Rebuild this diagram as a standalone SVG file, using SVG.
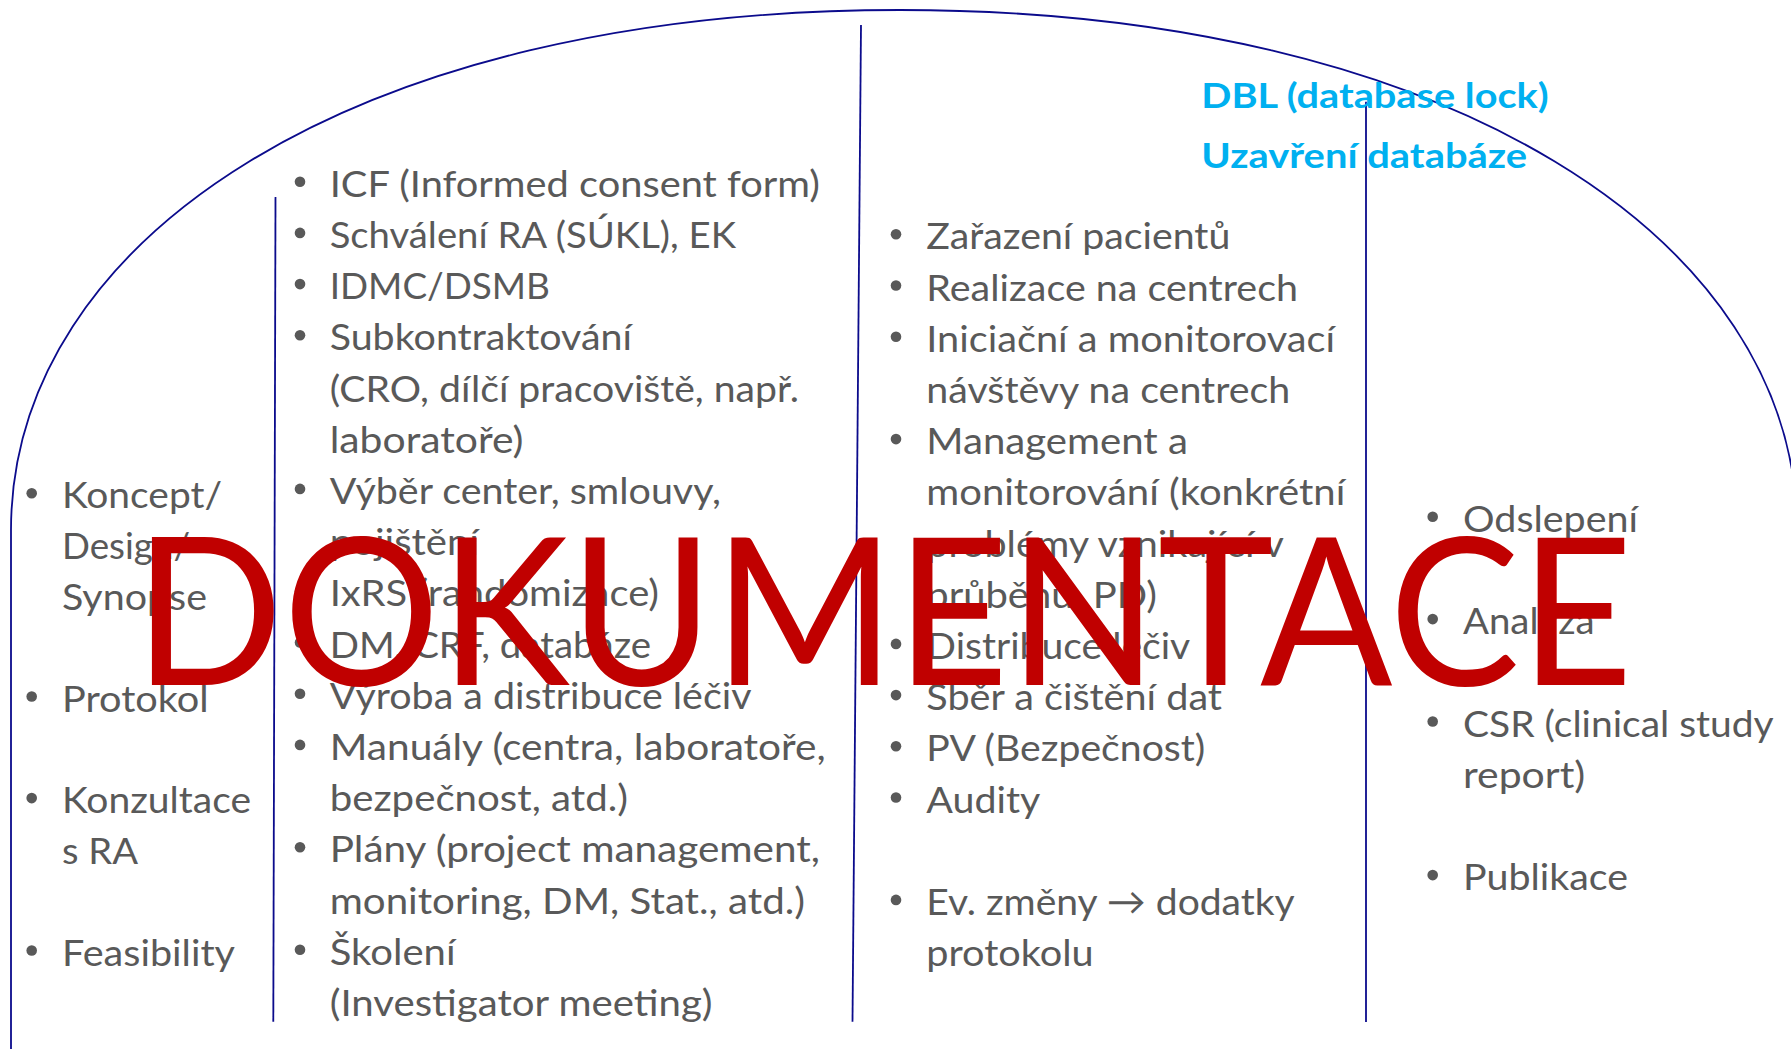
<svg xmlns="http://www.w3.org/2000/svg" width="1791" height="1049" viewBox="0 0 1791 1049">
<style>
.t{font-family:Lato,"Open Sans","Liberation Sans",sans-serif;font-size:37.5px;fill:#595959;}
.b{fill:#595959;}
.ln{fill:none;stroke:#0B0B8C;stroke-width:1.8;}
.dbl{font-family:Lato,"Open Sans","Liberation Sans",sans-serif;font-weight:bold;font-size:35px;fill:#00B0F0;}
.wm{font-family:Lato,"Open Sans","Liberation Sans",sans-serif;font-size:206px;fill:#C00000;}
</style>
<rect width="1791" height="1049" fill="#FFFFFF"/>
<g id="connectors">
<path class="ln" d="M 11 1049 L 11 530 C 11 240 351 10 900 10 C 1449 10 1797 240 1797 530 L 1797 1049"/>
<line class="ln" x1="275.5" y1="197" x2="273.3" y2="1021.7"/>
<line class="ln" x1="861" y1="25" x2="852.5" y2="1021.8"/>
<line class="ln" x1="1366" y1="101.7" x2="1366" y2="1022"/>
</g>
<g id="col-planning">
<circle class="b" cx="31.7" cy="493.3" r="5.3"/>
<circle class="b" cx="31.7" cy="696.5" r="5.3"/>
<circle class="b" cx="31.7" cy="798.1" r="5.3"/>
<circle class="b" cx="31.7" cy="950.5" r="5.3"/>
<text class="t" x="62" y="508.3" textLength="160" lengthAdjust="spacingAndGlyphs">Koncept/</text>
<text class="t" x="62" y="559.1" textLength="128" lengthAdjust="spacingAndGlyphs">Design/</text>
<text class="t" x="62" y="609.9" textLength="145" lengthAdjust="spacingAndGlyphs">Synopse</text>
<text class="t" x="62" y="711.5" textLength="146.7" lengthAdjust="spacingAndGlyphs">Protokol</text>
<text class="t" x="62" y="813.1" textLength="189" lengthAdjust="spacingAndGlyphs">Konzultace</text>
<text class="t" x="62" y="863.9" textLength="76" lengthAdjust="spacingAndGlyphs">s RA</text>
<text class="t" x="62" y="965.5" textLength="173" lengthAdjust="spacingAndGlyphs">Feasibility</text>
</g>
<g id="col-preparation">
<circle class="b" cx="300" cy="181.7" r="5.3"/>
<circle class="b" cx="300" cy="232.9" r="5.3"/>
<circle class="b" cx="300" cy="284.1" r="5.3"/>
<circle class="b" cx="300" cy="335.3" r="5.3"/>
<circle class="b" cx="300" cy="488.9" r="5.3"/>
<circle class="b" cx="300" cy="591.3" r="5.3"/>
<circle class="b" cx="300" cy="642.5" r="5.3"/>
<circle class="b" cx="300" cy="693.7" r="5.3"/>
<circle class="b" cx="300" cy="744.9" r="5.3"/>
<circle class="b" cx="300" cy="847.3" r="5.3"/>
<circle class="b" cx="300" cy="949.7" r="5.3"/>
<text class="t" x="329.7" y="196.7" textLength="490.3" lengthAdjust="spacingAndGlyphs">ICF (Informed consent form)</text>
<text class="t" x="329.7" y="247.9" textLength="406.3" lengthAdjust="spacingAndGlyphs">Schválení RA (SÚKL), EK</text>
<text class="t" x="329.7" y="299.1" textLength="220.3" lengthAdjust="spacingAndGlyphs">IDMC/DSMB</text>
<text class="t" x="329.7" y="350.3" textLength="302.3" lengthAdjust="spacingAndGlyphs">Subkontraktování</text>
<text class="t" x="329.7" y="401.5" textLength="469.3" lengthAdjust="spacingAndGlyphs">(CRO, dílčí pracoviště, např.</text>
<text class="t" x="329.7" y="452.7" textLength="193.8" lengthAdjust="spacingAndGlyphs">laboratoře)</text>
<text class="t" x="329.7" y="503.9" textLength="391.3" lengthAdjust="spacingAndGlyphs">Výběr center, smlouvy,</text>
<text class="t" x="329.7" y="555.1" textLength="149.3" lengthAdjust="spacingAndGlyphs">pojištění</text>
<text class="t" x="329.7" y="606.3" textLength="329.3" lengthAdjust="spacingAndGlyphs">IxRS (randomizace)</text>
<text class="t" x="329.7" y="657.5" textLength="321.3" lengthAdjust="spacingAndGlyphs">DM, CRF, databáze</text>
<text class="t" x="329.7" y="708.7" textLength="421.8" lengthAdjust="spacingAndGlyphs">Výroba a distribuce léčiv</text>
<text class="t" x="329.7" y="759.9" textLength="496" lengthAdjust="spacingAndGlyphs">Manuály (centra, laboratoře,</text>
<text class="t" x="329.7" y="811.1" textLength="298.3" lengthAdjust="spacingAndGlyphs">bezpečnost, atd.)</text>
<text class="t" x="329.7" y="862.3" textLength="490.3" lengthAdjust="spacingAndGlyphs">Plány (project management,</text>
<text class="t" x="329.7" y="913.5" textLength="475.3" lengthAdjust="spacingAndGlyphs">monitoring, DM, Stat., atd.)</text>
<text class="t" x="329.7" y="964.7" textLength="125.8" lengthAdjust="spacingAndGlyphs">Školení</text>
<text class="t" x="329.7" y="1015.9" textLength="382.9" lengthAdjust="spacingAndGlyphs">(Investigator meeting)</text>
</g>
<g id="col-conduct">
<circle class="b" cx="896" cy="234.3" r="5.3"/>
<circle class="b" cx="896" cy="285.5" r="5.3"/>
<circle class="b" cx="896" cy="336.7" r="5.3"/>
<circle class="b" cx="896" cy="439.1" r="5.3"/>
<circle class="b" cx="896" cy="643.9" r="5.3"/>
<circle class="b" cx="896" cy="695.1" r="5.3"/>
<circle class="b" cx="896" cy="746.3" r="5.3"/>
<circle class="b" cx="896" cy="797.5" r="5.3"/>
<circle class="b" cx="896" cy="899.9" r="5.3"/>
<text class="t" x="926.3" y="249.3" textLength="304" lengthAdjust="spacingAndGlyphs">Zařazení pacientů</text>
<text class="t" x="926.3" y="300.5" textLength="371.7" lengthAdjust="spacingAndGlyphs">Realizace na centrech</text>
<text class="t" x="926.3" y="351.7" textLength="408.7" lengthAdjust="spacingAndGlyphs">Iniciační a monitorovací</text>
<text class="t" x="926.3" y="402.9" textLength="364" lengthAdjust="spacingAndGlyphs">návštěvy na centrech</text>
<text class="t" x="926.3" y="454.1" textLength="261.7" lengthAdjust="spacingAndGlyphs">Management a</text>
<text class="t" x="926.3" y="505.3" textLength="419" lengthAdjust="spacingAndGlyphs">monitorování (konkrétní</text>
<text class="t" x="926.3" y="556.5" textLength="357.7" lengthAdjust="spacingAndGlyphs">problémy vznikající v</text>
<text class="t" x="926.3" y="607.7" textLength="230.7" lengthAdjust="spacingAndGlyphs">průběhu, PD)</text>
<text class="t" x="926.3" y="658.9" textLength="264" lengthAdjust="spacingAndGlyphs">Distribuce léčiv</text>
<text class="t" x="926.3" y="710.1" textLength="295.7" lengthAdjust="spacingAndGlyphs">Sběr a čištění dat</text>
<text class="t" x="926.3" y="761.3" textLength="279" lengthAdjust="spacingAndGlyphs">PV (Bezpečnost)</text>
<text class="t" x="926.3" y="812.5" textLength="114" lengthAdjust="spacingAndGlyphs">Audity</text>
<text class="t" x="926.3" y="914.9" textLength="368.4" lengthAdjust="spacingAndGlyphs">Ev. změny → dodatky</text>
<text class="t" x="926.3" y="966.1" textLength="167.4" lengthAdjust="spacingAndGlyphs">protokolu</text>
</g>
<g id="col-closeout">
<circle class="b" cx="1432.7" cy="516.7" r="5.3"/>
<circle class="b" cx="1432.7" cy="619.1" r="5.3"/>
<circle class="b" cx="1432.7" cy="721.5" r="5.3"/>
<circle class="b" cx="1432.7" cy="875.1" r="5.3"/>
<text class="t" x="1463" y="531.7" textLength="175" lengthAdjust="spacingAndGlyphs">Odslepení</text>
<text class="t" x="1463" y="634.1" textLength="131.7" lengthAdjust="spacingAndGlyphs">Analýza</text>
<text class="t" x="1463" y="736.5" textLength="310.7" lengthAdjust="spacingAndGlyphs">CSR (clinical study</text>
<text class="t" x="1463" y="787.7" textLength="122.3" lengthAdjust="spacingAndGlyphs">report)</text>
<text class="t" x="1463" y="890.1" textLength="165" lengthAdjust="spacingAndGlyphs">Publikace</text>
</g>
<g id="dbl-label">
<text class="dbl" x="1201.3" y="108.3" textLength="347.4" lengthAdjust="spacingAndGlyphs">DBL (database lock)</text>
<text class="dbl" x="1201.3" y="167.7" textLength="325.7" lengthAdjust="spacingAndGlyphs">Uzavření databáze</text>
</g>
<g id="watermark">
<text class="wm" x="134" y="685" textLength="1499" lengthAdjust="spacingAndGlyphs">DOKUMENTACE</text>
</g>
</svg>
